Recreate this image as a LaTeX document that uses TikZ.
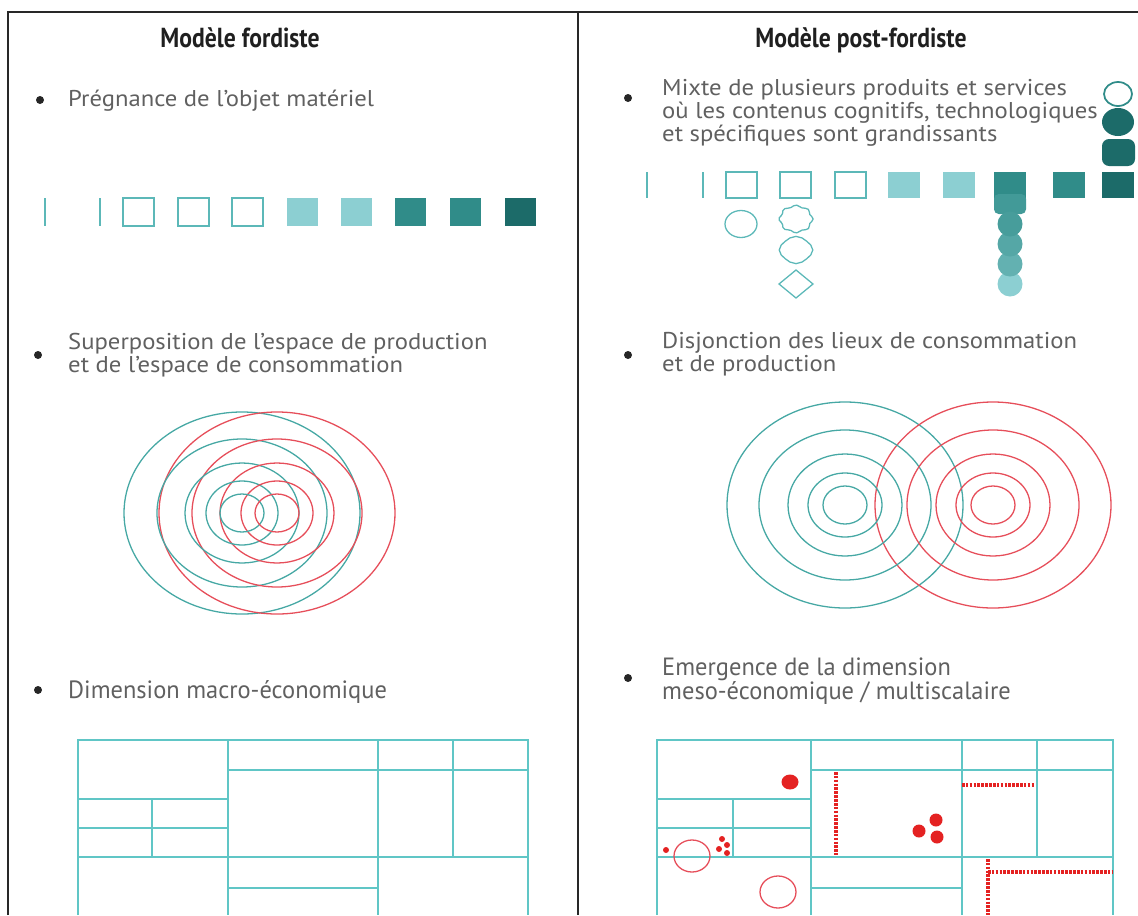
\documentclass[tikz,border=0pt]{standalone}
\usepackage{fontspec}
\setmainfont{PT Sans}
\newfontfamily\bodyfont[FakeStretch=1.08]{PT Sans}
\newfontfamily\condfont[FakeStretch=0.98]{PT Sans}
\newfontfamily\titlefont[FakeStretch=0.86]{PT Sans}
\setlength{\lineskiplimit}{-20pt}
\usepackage{tikz}
\usetikzlibrary{positioning}
\definecolor{framegray}{RGB}{40,40,40}
\definecolor{textgray}{RGB}{96,96,96}
\definecolor{tealline}{RGB}{92,184,184}
\definecolor{gridteal}{RGB}{96,198,198}
\definecolor{ringteal}{RGB}{70,168,164}
\definecolor{ringred}{RGB}{230,78,90}
\definecolor{dotred}{RGB}{228,34,34}
\definecolor{lightteal}{RGB}{140,207,210}
\definecolor{midteal}{RGB}{48,140,137}
\definecolor{darkteal}{RGB}{28,107,105}

\begin{document}
\begin{tikzpicture}[x=0.03cm, y=-0.03cm,
    headtitle/.style={font=\titlefont\bfseries\fontsize{23.5}{26}\selectfont, text=black!88},
    bullettext/.style={anchor=west, inner sep=0pt, align=left, text=textgray,
                       font=\bodyfont\fontsize{19.5}{19.6}\selectfont},
    condtext/.style={bullettext, font=\condfont\fontsize{21.3}{20}\selectfont},
    bulletdot/.style={fill=black!85},
    outlinesq/.style={draw=tealline, line width=1.2pt},
    ringline/.style={line width=1.1pt},
    cellline/.style={draw=gridteal, line width=1.2pt},
    reddots/.style={draw=dotred, line width=3pt, dash pattern=on 2.2pt off 1.1pt}
]
\useasboundingbox (0,0) rectangle (1138,915);

% frame and columns
\draw[framegray, line width=1.2pt] (8,915) -- (8,12) -- (1138,12);
\draw[framegray, line width=1.2pt] (578,12) -- (578,915);

\node[headtitle] (fordtitle) at (240,38) {Modèle fordiste};
\node[headtitle] (postfordtitle) at (861,40) {Modèle post-fordiste};

% bullets and texts
\fill[bulletdot] (40,100) circle (4);
\fill[bulletdot] (628,98) circle (4);
\fill[bulletdot] (38,355) circle (4);
\fill[bulletdot] (628,355) circle (4);
\fill[bulletdot] (38,690) circle (4);
\fill[bulletdot] (628,678) circle (4);

\node[bullettext] (pregnance) at (68,101) {Prégnance de l’objet matériel};
\node[bullettext] (mixte) at (662,113) {Mixte de plusieurs produits et services\\où les contenus cognitifs, technologiques\\et spécifiques sont grandissants};
\node[bullettext] (superposition) at (68,355) {Superposition de l’espace de production\\et de l’espace de consommation};
\node[bullettext] (disjonction) at (662,354) {Disjonction des lieux de consommation\\et de production};
\node[condtext] (macro) at (68,692) {Dimension macro-économique};
\node[condtext] (meso) at (662,681) {Emergence de la dimension\\meso-économique / multiscalaire};

% fordist row of objects
\foreach \x in {45,100} \draw[tealline, line width=1.2pt] (\x,198) -- (\x,226);
\foreach \x in {123,178,232} \draw[outlinesq] (\x,198) rectangle ++(31,28);
\foreach \x/\c in {287/lightteal,341/lightteal,395/midteal,450/midteal,505/darkteal}
  \fill[\c] (\x,198) rectangle ++(31,28);

% post-fordist row of objects
\foreach \x in {647,703} \draw[tealline, line width=1.2pt] (\x,172) -- (\x,198);
\foreach \x in {726,780,835} \draw[outlinesq] (\x,172) rectangle ++(31,26);
\foreach \x/\c in {888/lightteal,943/lightteal,994/midteal,1053/midteal,1102/darkteal}
  \fill[\c] (\x,172) rectangle ++(32,26);

\draw[tealline, line width=1.1pt] (741,224) ellipse [x radius=16, y radius=13.5];
\draw[tealline, line width=1.1pt] plot[smooth cycle, samples=33, domain=0:348.75, variable=\t]
  ({796+16*cos(\t)*(1+0.07*cos(8*\t))}, {219+13*sin(\t)*(1+0.07*cos(8*\t))});
\draw[tealline, line width=1.1pt] plot[samples=17, domain=0:360, variable=\t]
  ({796+16*cos(\t)*(1+0.05*cos(4*\t))}, {250+13*sin(\t)*(1+0.05*cos(4*\t))}) -- cycle;
\draw[tealline, line width=1.1pt] (796,270) -- (813,284) -- (796,298) -- (779,284) -- cycle;

\fill[midteal!80!lightteal, rounded corners=4pt] (994,194) rectangle (1026,214);
\foreach \y/\c in {284/lightteal, 264/midteal!45!lightteal, 244/midteal!60!lightteal, 224/midteal!75!lightteal}
  \fill[\c] (1010,\y) circle (12.5);

\draw[midteal, line width=1.5pt] (1118,94) ellipse [x radius=14, y radius=12];
\fill[darkteal] (1118,122) ellipse [x radius=16, y radius=14];
\fill[darkteal, rounded corners=6pt] (1102,139) rectangle (1135,166);

% superposed rings
\foreach \rx/\ry in {118/101,85/74,57/50,36/32,22/19} {
  \draw[ringline, ringteal] (242,513) ellipse [x radius=\rx, y radius=\ry];
  \draw[ringline, ringred] (277,513) ellipse [x radius=\rx, y radius=\ry];
}

% disjoint rings
\foreach \rx/\ry in {118/103,86/75,57/51,37/32,22/19} {
  \draw[ringline, ringteal] (845,505) ellipse [x radius=\rx, y radius=\ry];
  \draw[ringline, ringred] (993,505) ellipse [x radius=\rx, y radius=\ry];
}

% territorial grids
\foreach \a/\b/\c/\d/\e/\s in {78/228/378/453/528/152, 657/811/962/1037/1113/733} {
  \draw[cellline] (\a,915) -- (\a,740) -- (\e,740) -- (\e,915);
  \draw[cellline] (\b,740) -- (\b,915) (\c,740) -- (\c,915) (\d,740) -- (\d,857);
  \draw[cellline] (\b,770) -- (\e,770) (\a,799) -- (\b,799) (\a,828) -- (\b,828);
  \draw[cellline] (\a,857) -- (\e,857) (\b,888) -- (\c,888) (\s,799) -- (\s,857);
}

% meso-level clusters
\fill[dotred] (790,782) ellipse [x radius=8.5, y radius=7.5];
\foreach \p in {(936,820),(919,831),(937,837)} \fill[dotred] \p circle (6.5);
\foreach \p in {(666,850),(722,839),(727,845),(719,849),(727,853)} \fill[dotred] \p circle (3);
\draw[ringred, line width=1.1pt] (692,856) ellipse [x radius=18, y radius=16];
\draw[ringred, line width=1.1pt] (778,892) ellipse [x radius=18, y radius=16];
\draw[reddots] (836,772) -- (836,855);
\draw[reddots] (962,785) -- (1035,785);
\draw[reddots] (988,859) -- (988,915);
\draw[reddots] (988,872) -- (1113,872);

\end{tikzpicture}
\end{document}
